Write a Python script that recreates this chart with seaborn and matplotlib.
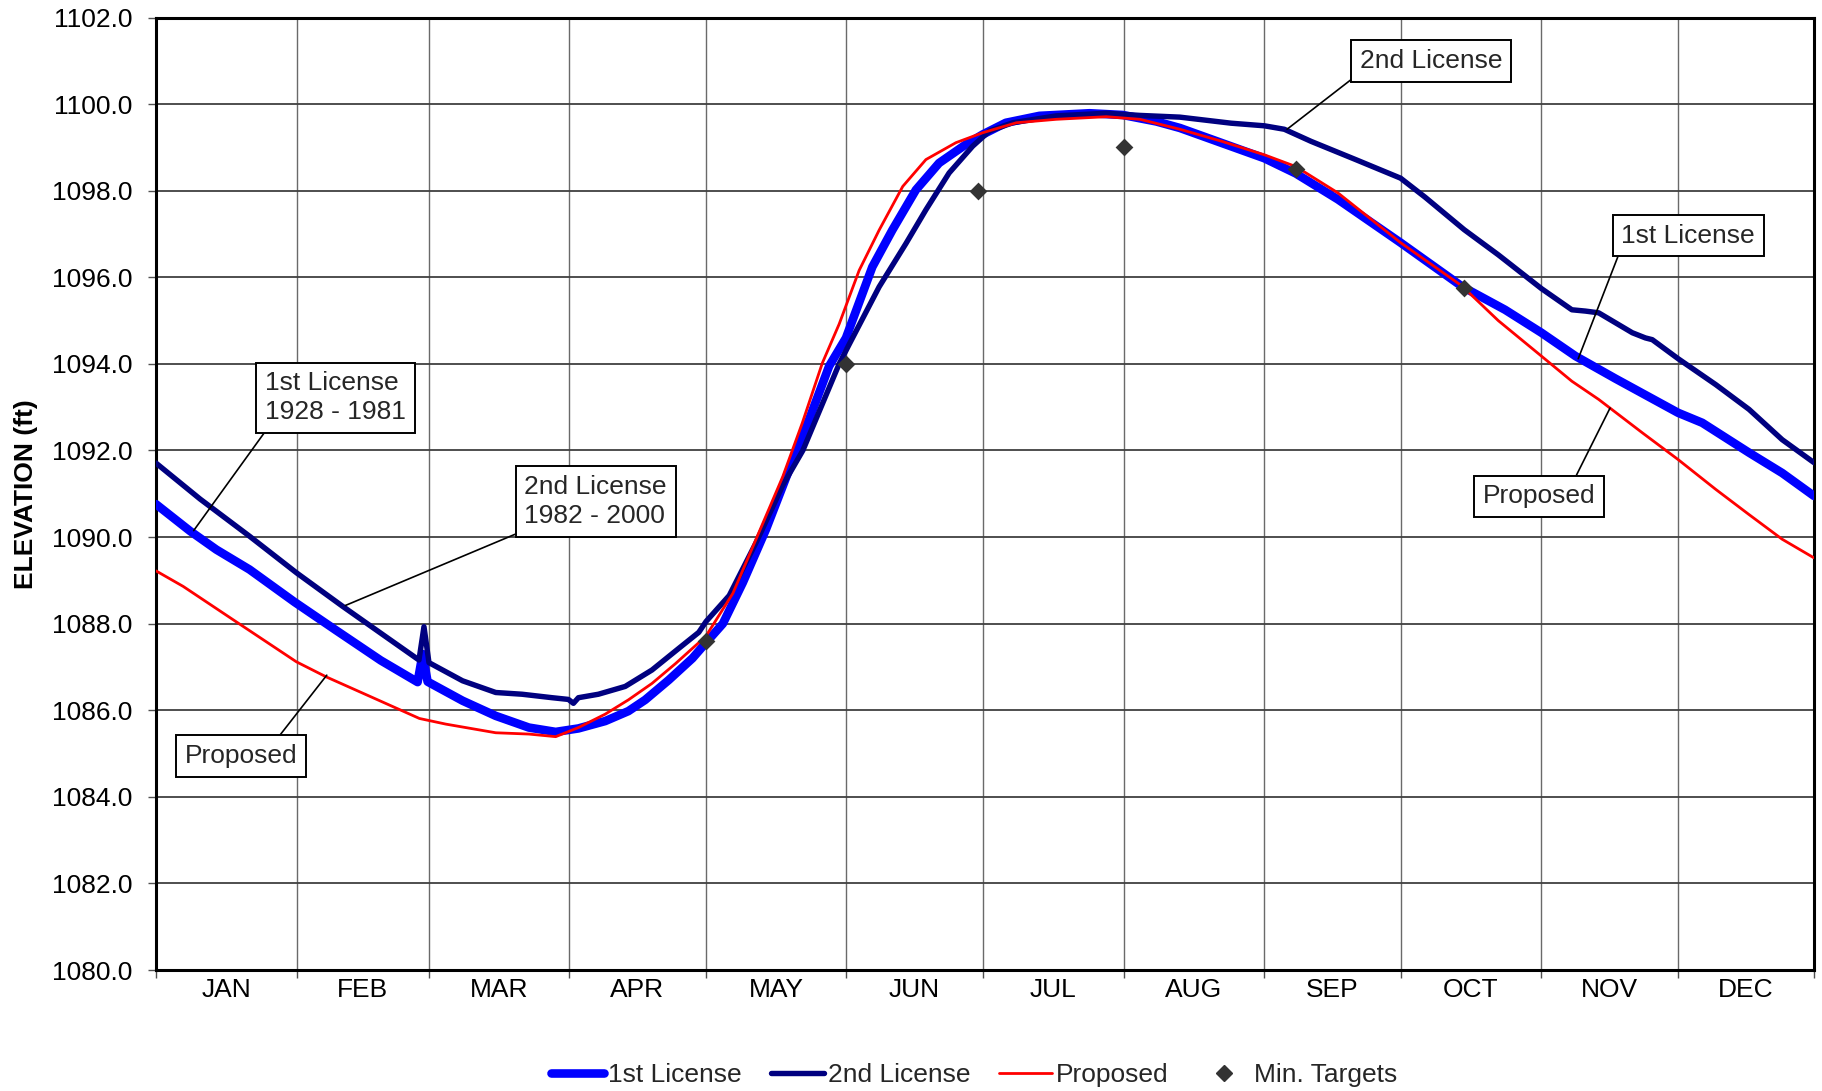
"""Reservoir elevation rule curves: 1st License, 2nd License and Proposed."""

import matplotlib

matplotlib.use("Agg")

import matplotlib.pyplot as plt
import numpy as np
import seaborn as sns
from matplotlib.lines import Line2D
from matplotlib.ticker import FormatStrFormatter


MONTHS = ["JAN", "FEB", "MAR", "APR", "MAY", "JUN",
          "JUL", "AUG", "SEP", "OCT", "NOV", "DEC"]
MONTH_STARTS = [0, 31, 60, 91, 121, 152, 182, 213, 244, 274, 305, 335, 365]

# 1st License 1928 - 1981
FIRST_DAYS = [0, 7.5, 13.3, 20.6, 30.5, 39.6, 49.5, 57.6, 58.7, 59.8, 67.5, 74.8,
              82.1, 88, 93, 98.9, 104, 107.7, 112.9, 118.1, 121, 124.8, 129.2,
              134.3, 139.4, 143.8, 148.2, 151.9, 157.7, 162.1, 167.3, 172.4,
              178.3, 182, 187.1, 194.5, 205.5, 212.8, 220.2, 225.4, 234.7, 244,
              250.9, 260.2, 274, 287.5, 297, 305, 312.5, 321.3, 335.1, 340.4,
              350.7, 358, 365]
FIRST_ELEV = [1090.76, 1090.14, 1089.71, 1089.25, 1088.5, 1087.85, 1087.15,
              1086.65, 1087.3, 1086.66, 1086.22, 1085.87, 1085.6, 1085.5,
              1085.58, 1085.75, 1085.98, 1086.24, 1086.7, 1087.2, 1087.55,
              1088.0, 1088.95, 1090.18, 1091.56, 1092.72, 1093.95, 1094.6,
              1096.24, 1097.09, 1098.02, 1098.64, 1099.07, 1099.3, 1099.57,
              1099.73, 1099.79, 1099.75, 1099.6, 1099.45, 1099.1, 1098.75,
              1098.4, 1097.8, 1096.8, 1095.79, 1095.25, 1094.72, 1094.18,
              1093.66, 1092.87, 1092.64, 1091.95, 1091.48, 1090.95]

# 2nd License 1982 - 2000
SECOND_DAYS = [0, 9.7, 20.6, 31, 41.1, 49.9, 57.9, 59.0, 60.1, 67.5, 74.8, 80.6,
               87.2, 90.8, 91.9, 93, 97.4, 103.3, 109.2, 115.1, 119.5, 121.1,
               126.2, 132.1, 138, 142.4, 146.4, 150.4, 152.6, 159.2, 165.1,
               169.5, 174.6, 179.8, 183.5, 188.6, 198.2, 209.2, 216.6, 225.4,
               236.7, 244, 248.4, 254.3, 264.1, 274, 279.4, 288, 295.5, 305,
               311.7, 314.7, 317.6, 325, 327.9, 329.4, 335.1, 343.4, 350.7,
               358, 365]
SECOND_ELEV = [1091.71, 1090.88, 1090.02, 1089.17, 1088.4, 1087.75, 1087.16,
               1087.93, 1087.1, 1086.68, 1086.41, 1086.37, 1086.29, 1086.25,
               1086.16, 1086.29, 1086.37, 1086.55, 1086.93, 1087.43, 1087.8,
               1088.05, 1088.65, 1089.87, 1091.2, 1092.0, 1093.0, 1094.0,
               1094.45, 1095.78, 1096.78, 1097.56, 1098.41, 1099.03, 1099.38,
               1099.57, 1099.73, 1099.79, 1099.74, 1099.7, 1099.56, 1099.5,
               1099.42, 1099.14, 1098.72, 1098.29, 1097.85, 1097.1, 1096.52,
               1095.74, 1095.25, 1095.22, 1095.18, 1094.72, 1094.6, 1094.56,
               1094.12, 1093.52, 1092.95, 1092.25, 1091.72]

# Proposed
PROPOSED_DAYS = [0, 6, 17, 30.9, 37.5, 48.4, 58, 63.8, 74.8, 82.1, 88, 93, 98.9,
                 104, 109.2, 114.4, 118.1, 121, 127, 132.1, 138, 142.3, 146.7,
                 150.4, 154.8, 159.2, 164.4, 169.5, 176.1, 182, 189.4, 198.2,
                 209.2, 216.6, 225.4, 234.7, 244, 250.9, 260.2, 274, 287.5,
                 295.5, 305, 311.7, 317.6, 327.2, 335.1, 343.4, 350.7, 358, 365]
PROPOSED_ELEV = [1089.22, 1088.86, 1088.09, 1087.12, 1086.77, 1086.26, 1085.81,
                 1085.68, 1085.48, 1085.45, 1085.39, 1085.6, 1085.91, 1086.24,
                 1086.62, 1087.08, 1087.43, 1087.7, 1088.7, 1089.95, 1091.4,
                 1092.64, 1094.02, 1094.92, 1096.16, 1097.09, 1098.1, 1098.72,
                 1099.11, 1099.34, 1099.57, 1099.65, 1099.71, 1099.65, 1099.42,
                 1099.14, 1098.83, 1098.56, 1097.95, 1096.8, 1095.8, 1095.0,
                 1094.18, 1093.6, 1093.18, 1092.41, 1091.79, 1091.1, 1090.52,
                 1089.95, 1089.52]

# Minimum elevation targets
TARGET_DAYS = [121, 152, 181, 213, 251, 288]
TARGET_ELEV = [1087.6, 1094.0, 1098.0, 1099.0, 1098.5, 1095.75]

SERIES_LABELS = ["1st License", "2nd License", "Proposed", "Min. Targets"]

FIRST_COLOR = "#0000FF"
SECOND_COLOR = "#000080"
PROPOSED_COLOR = "#FF0000"
TARGET_COLOR = "#333333"
FONT_SIZE = 19
FIRST_LW = 6.2
SECOND_LW = 3.9
PROPOSED_LW = 2.0


def add_note(ax, text, center, target, relpos):
    """Boxed call-out label with a plain leader line to its curve."""
    ax.annotate(
        text,
        xy=target,
        xytext=center,
        ha="center",
        va="center",
        multialignment="left",
        fontsize=19,
        linespacing=1.25,
        zorder=10,
        bbox=dict(boxstyle="square,pad=0.33", fc="white", ec="black", lw=1.4),
        arrowprops=dict(arrowstyle="-", color="black", lw=1.2,
                        relpos=relpos, shrinkA=0, shrinkB=0),
    )


def main() -> None:
    sns.set_theme(style="white")
    plt.rcParams["font.family"] = ["Liberation Sans", "DejaVu Sans"]

    fig = plt.figure(figsize=(18.22, 10.91), dpi=100)
    ax = fig.add_axes([0.0856, 0.1109, 0.9100, 0.8730])

    line_kw = dict(ax=ax, sort=False, estimator=None,
                   solid_capstyle="round", solid_joinstyle="round")
    sns.lineplot(x=FIRST_DAYS, y=FIRST_ELEV, color=FIRST_COLOR,
                 linewidth=FIRST_LW, zorder=3, **line_kw)
    sns.lineplot(x=SECOND_DAYS, y=SECOND_ELEV, color=SECOND_COLOR,
                 linewidth=SECOND_LW, zorder=4, **line_kw)
    sns.lineplot(x=PROPOSED_DAYS, y=PROPOSED_ELEV, color=PROPOSED_COLOR,
                 linewidth=PROPOSED_LW, zorder=5, **line_kw)
    sns.scatterplot(x=TARGET_DAYS, y=TARGET_ELEV, ax=ax, marker="D", s=82,
                    color=TARGET_COLOR, edgecolor=TARGET_COLOR, linewidth=0,
                    zorder=6)

    ax.set_xlim(MONTH_STARTS[0], MONTH_STARTS[-1])
    ax.set_ylim(1080, 1102)

    # month boundaries carry the grid, month centres carry the labels
    centres = [(a + b) / 2 for a, b in zip(MONTH_STARTS[:-1], MONTH_STARTS[1:])]
    ax.set_xticks(MONTH_STARTS)
    ax.set_xticklabels([])
    ax.set_xticks(centres, minor=True)
    ax.set_xticklabels(MONTHS, minor=True)
    ax.set_yticks(np.arange(1080, 1103, 2))
    ax.yaxis.set_major_formatter(FormatStrFormatter("%.1f"))

    ax.tick_params(axis="x", which="major", bottom=True, direction="out",
                   length=6, width=1.0, color="#505050")
    ax.tick_params(axis="x", which="minor", bottom=True, length=0, pad=6,
                   labelsize=FONT_SIZE, labelcolor="black")
    ax.tick_params(axis="y", left=True, direction="out", length=6, width=1.0,
                   color="#505050", pad=11, labelsize=FONT_SIZE,
                   labelcolor="black")

    ax.set_axisbelow(True)
    ax.grid(True, axis="y", color="#404040", linewidth=1.3)
    ax.grid(True, axis="x", which="major", color="#6a6a6a", linewidth=1.0)
    for spine in ax.spines.values():
        spine.set_visible(True)
        spine.set_color("black")
        spine.set_linewidth(2.2)

    ax.set_xlabel("")
    ax.set_ylabel("ELEVATION (ft)", fontsize=FONT_SIZE, fontweight="bold",
                  color="black")
    ax.yaxis.set_label_coords(-0.0712, 0.5)

    add_note(ax, "1st License\n1928 - 1981", (39.5, 1093.22), (8.3, 1090.15),
             (0.04, 0.0))
    add_note(ax, "2nd License\n1982 - 2000", (96.8, 1090.82), (41.7, 1088.42),
             (0.04, 0.0))
    add_note(ax, "Proposed", (18.8, 1084.94), (37.6, 1086.81), (0.78, 1.0))
    add_note(ax, "2nd License", (280.7, 1101.0), (249.0, 1099.42), (0.0, 0.0))
    add_note(ax, "1st License", (337.3, 1096.96), (313.1, 1094.12), (0.0, 0.0))
    add_note(ax, "Proposed", (304.5, 1090.94), (320.1, 1092.98), (0.79, 1.0))

    handles = [
        Line2D([], [], color=FIRST_COLOR, linewidth=FIRST_LW,
               solid_capstyle="round"),
        Line2D([], [], color=SECOND_COLOR, linewidth=SECOND_LW,
               solid_capstyle="round"),
        Line2D([], [], color=PROPOSED_COLOR, linewidth=PROPOSED_LW),
        Line2D([], [], color=TARGET_COLOR, marker="D", markersize=8.5,
               linestyle="none"),
    ]
    fig.legend(handles, SERIES_LABELS, loc="center",
               bbox_to_anchor=(0.5348, 0.0147), ncol=4, frameon=False,
               fontsize=FONT_SIZE, handlelength=2.0, handletextpad=0.15,
               columnspacing=1.1, borderpad=0.1)

    fig.savefig("out.png", dpi=100)
    plt.close(fig)


if __name__ == "__main__":
    main()
